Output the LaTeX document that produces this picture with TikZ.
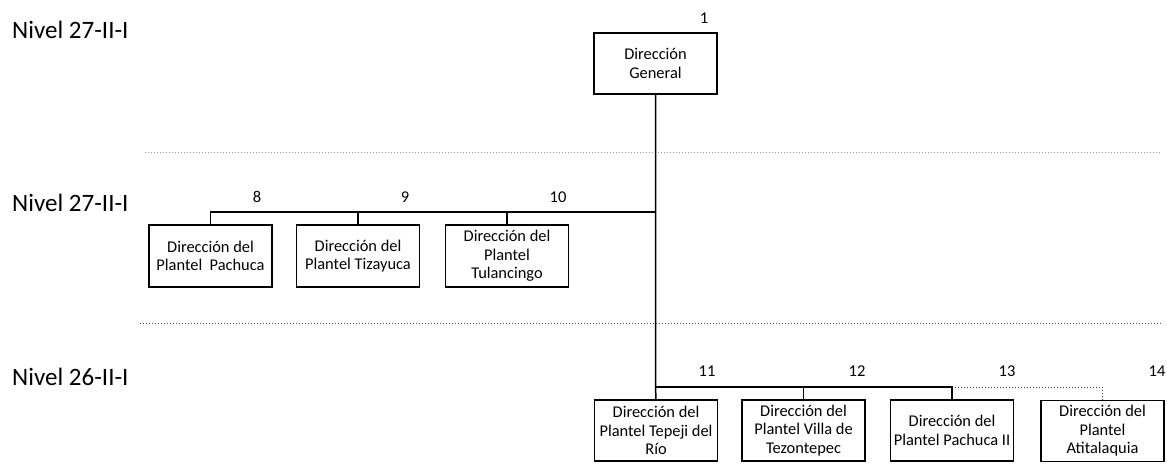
\documentclass[tikz,border=0pt]{standalone}
\usepackage{fontspec}
\setmainfont{Carlito}
\begin{document}
\begin{tikzpicture}[x=1pt,y=-1pt,
  box/.style={draw=black,line width=1.3pt,minimum width=123pt,minimum height=61pt,
    align=center,inner sep=1pt,font=\fontsize{16.4}{18.5}\selectfont},
  num/.style={font=\fontsize{16.5}{18}\selectfont,inner sep=0pt},
  lvl/.style={font=\fontsize{25}{28}\selectfont,anchor=west,inner sep=0pt},
  conn/.style={line width=1.5pt,draw=black},
  thinconn/.style={line width=1pt,draw=black!75,dotted},
  sep/.style={line width=1pt,dotted}]
\useasboundingbox (0,0) rectangle (1167,475);
% level labels
\node[lvl] (l1) at (12,30) {Nivel 27-II-I};
\node[lvl] (l2) at (12,203) {Nivel 27-II-I};
\node[lvl] (l3) at (12,377) {Nivel 26-II-I};
% separators
\coordinate (s1a) at (145,152); \coordinate (s1b) at (1160,152);
\coordinate (s2a) at (140,323); \coordinate (s2b) at (1163,323);
\draw[sep,draw=black!40] (s1a) -- (s1b);
\draw[sep,draw=black!70] (s2a) -- (s2b);
% boxes
\node[box] (g) at (655.5,63.5) {Dirección\\General};
\node[box,minimum height=62pt] (p8) at (210.5,256) {Dirección del\\Plantel\ \ Pachuca};
\node[box,minimum height=62pt] (p9) at (358,256) {Dirección del\\Plantel Tizayuca};
\node[box,minimum height=62pt] (p10) at (507,256) {Dirección del\\Plantel\\Tulancingo};
\node[box] (p11) at (656,430.5) {Dirección del\\Plantel Tepeji del\\Río};
\node[box] (p12) at (803.5,430.5) {Dirección del\\Plantel Villa de\\Tezontepec};
\node[box] (p13) at (952,430.5) {Dirección del\\Plantel Pachuca II};
\node[box] (p14) at (1102.5,431) {Dirección del\\Plantel\\Atitalaquia};
% numbers
\node[num] (n1) at (704,18) {1};
\node[num] (n8) at (257,197) {8};
\node[num] (n9) at (405,197) {9};
\node[num] (n10) at (558,197) {10};
\node[num] (n11) at (707,371) {11};
\node[num] (n12) at (857,371) {12};
\node[num] (n13) at (1007,371) {13};
\node[num] (n14) at (1157,371) {14};
% connectors
\coordinate (h2) at (655.5,212);
\coordinate (h3) at (655.5,387);
\draw[conn] (g.south) -- (h3) -- (p11.north);
\draw[conn] (p8.north) |- (h2);
\draw[conn] (p9.north) -- (p9.north |- h2);
\draw[conn] (p10.north) -- (p10.north |- h2);
\draw[conn] (h3) -| (p13.north);
\draw[conn] (p12.north) -- (p12.north |- h3);
\draw[thinconn] (p13.north |- h3) -| (p14.north);
\end{tikzpicture}
\end{document}
